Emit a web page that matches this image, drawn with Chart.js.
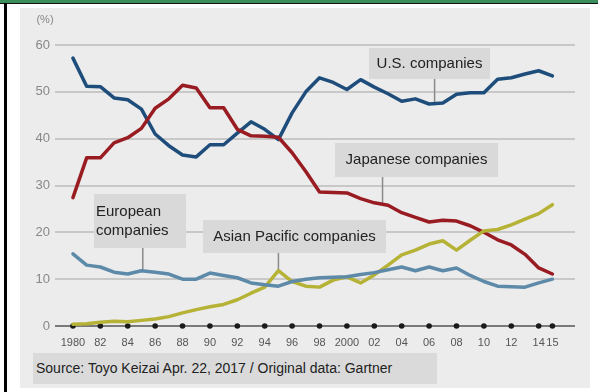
<!DOCTYPE html>
<html>
<head>
<meta charset="utf-8">
<script src="https://cdn.jsdelivr.net/npm/chart.js@4.4.1/dist/chart.umd.min.js"></script>
<style>
  body { margin: 0; width: 598px; height: 392px; overflow: hidden; position: relative; background: #fff; font-family: "Liberation Sans", Arial, sans-serif; }
  #topbar { position: absolute; left: 0; top: 0; width: 598px; height: 3px; background: #3a8e5c; }
  #topline { position: absolute; left: 0; top: 3px; width: 598px; height: 1px; background: #111; }
  #leftline { position: absolute; left: 4px; top: 3px; width: 3px; height: 389px; background: #000; }
  #panel { position: absolute; left: 20px; top: 8px; width: 570px; height: 380px; background: #ececec; }
  #wrap { position: absolute; left: 0; top: 0; width: 598px; height: 392px; }
  #source { position: absolute; left: 33px; top: 353px; width: 401px; height: 31px; padding-left: 3px; background: #dadada; color: #222; font-size: 14px; line-height: 31px; white-space: nowrap; }
</style>
</head>
<body>
<div id="topbar"></div>
<div id="topline"></div>
<div id="leftline"></div>
<div id="panel"></div>
<div id="wrap"><canvas id="chart" width="598" height="392"></canvas></div>
<div id="source">Source: Toyo Keizai Apr. 22, 2017 / Original data: Gartner</div>
<script>
const years = [1980, 1981, 1982, 1983, 1984, 1985, 1986, 1987, 1988, 1989,
               1990, 1991, 1992, 1993, 1994, 1995, 1996, 1997, 1998, 1999,
               2000, 2001, 2002, 2003, 2004, 2005, 2006, 2007, 2008, 2009,
               2010, 2011, 2012, 2013, 2014, 2015];

const usShare = [57.2, 51.2, 51.1, 48.7, 48.3, 46.3, 41.0, 38.5, 36.5, 36.1,
                 38.7, 38.7, 41.2, 43.6, 42.0, 39.8, 45.5, 50.0, 53.0, 52.0,
                 50.5, 52.6, 51.0, 49.6, 48.0, 48.5, 47.4, 47.6, 49.5, 49.8,
                 49.8, 52.7, 53.0, 53.8, 54.5, 53.4];

const japanShare = [27.4, 35.9, 35.9, 39.1, 40.2, 42.2, 46.5, 48.5, 51.4, 50.8,
                    46.6, 46.6, 42.0, 40.6, 40.5, 40.3, 37.0, 33.0, 28.6, 28.5,
                    28.4, 27.2, 26.3, 25.8, 24.2, 23.2, 22.2, 22.6, 22.4, 21.4,
                    20.0, 18.4, 17.3, 15.3, 12.4, 11.1];

const europeShare = [15.4, 13.0, 12.6, 11.5, 11.1, 11.8, 11.5, 11.1, 10.0, 10.0,
                     11.3, 10.8, 10.3, 9.2, 8.8, 8.5, 9.5, 10.0, 10.3, 10.4,
                     10.5, 11.0, 11.4, 12.0, 12.6, 11.8, 12.6, 11.8, 12.4, 10.8,
                     9.5, 8.5, 8.4, 8.3, 9.2, 10.0];

const asiaShare = [0.4, 0.5, 0.8, 1.0, 0.9, 1.2, 1.5, 2.0, 2.8, 3.5,
                   4.1, 4.6, 5.6, 7.0, 8.3, 11.8, 9.5, 8.5, 8.3, 9.8,
                   10.5, 9.2, 10.9, 13.0, 15.2, 16.2, 17.5, 18.2, 16.2, 18.3,
                   20.3, 20.6, 21.6, 22.8, 24.0, 25.9];

const yearTicks = [1980, 1982, 1984, 1986, 1988, 1990, 1992, 1994, 1996, 1998,
                   2000, 2002, 2004, 2006, 2008, 2010, 2012, 2014, 2015];
const yearTickLabels = ['1980', '82', '84', '86', '88', '90', '92', '94', '96', '98',
                        '2000', '02', '04', '06', '08', '10', '12', '14', '15'];
const valueTicks = [0, 10, 20, 30, 40, 50, 60];

function toPoints(values) {
    return years.map((yr, i) => ({ x: yr, y: values[i] }));
}

function valueAt(values, year) {
    const idx = year - years[0];
    const i = Math.min(Math.floor(idx), values.length - 2);
    return values[i] + (values[i + 1] - values[i]) * (idx - i);
}

// label boxes with leader lines down to the series
const notes = [
    { lines: ['U.S. companies'], box: [369, 48, 121, 31], year: 2006.4, values: usShare, align: 'center' },
    { lines: ['Japanese companies'], box: [335, 143, 163, 34], year: 2002.6, values: japanShare, align: 'center' },
    { lines: ['European', 'companies'], box: [94, 194, 92, 54], year: 1985.1, values: europeShare, align: 'left' },
    { lines: ['Asian Pacific companies'], box: [203, 220, 183, 33], year: 1995, values: asiaShare, align: 'center' }
];

const notesPlugin = {
    id: 'notes',
    beforeDatasetsDraw(chart) {
        const ctx = chart.ctx;
        const xs = chart.scales.x, ys = chart.scales.y;
        ctx.save();
        notes.forEach(n => {
            const [bx, by, bw, bh] = n.box;
            const lx = xs.getPixelForValue(n.year);
            const ly = ys.getPixelForValue(valueAt(n.values, n.year));
            ctx.strokeStyle = '#8a8a8a';
            ctx.lineWidth = 1.5;
            ctx.beginPath();
            ctx.moveTo(lx, by + bh);
            ctx.lineTo(lx, ly);
            ctx.stroke();
            ctx.fillStyle = '#d9d9d9';
            ctx.fillRect(bx, by, bw, bh);
            ctx.fillStyle = '#222';
            ctx.font = '15px "Liberation Sans", Arial, sans-serif';
            ctx.textBaseline = 'middle';
            const lh = 19;
            const top = by + bh / 2 - (n.lines.length - 1) * lh / 2;
            n.lines.forEach((t, i) => {
                if (n.align === 'center') {
                    ctx.textAlign = 'center';
                    ctx.fillText(t, bx + bw / 2, top + i * lh);
                } else {
                    ctx.textAlign = 'left';
                    ctx.fillText(t, bx + 2, top + i * lh);
                }
            });
        });
        ctx.restore();
    },
    afterDraw(chart) {
        const ctx = chart.ctx;
        ctx.save();
        ctx.fillStyle = '#888';
        ctx.font = '11px "Liberation Sans", Arial, sans-serif';
        ctx.textAlign = 'center';
        ctx.textBaseline = 'middle';
        ctx.fillText('(%)', 45, 20);
        ctx.restore();
    }
};

function lineSet(label, values, color) {
    return {
        label: label,
        data: toPoints(values),
        borderColor: color,
        backgroundColor: color,
        borderWidth: 3.5,
        pointRadius: 0,
        tension: 0,
        borderJoinStyle: 'round',
        borderCapStyle: 'round'
    };
}

new Chart(document.getElementById('chart'), {
    type: 'line',
    data: {
        datasets: [
            lineSet('European companies', europeShare, '#5e8aa9'),
            lineSet('Asian Pacific companies', asiaShare, '#b5b236'),
            lineSet('Japanese companies', japanShare, '#981c21'),
            lineSet('U.S. companies', usShare, '#1e4d7c'),
            {
                label: 'ticks',
                data: yearTicks.map(v => ({ x: v, y: 0 })),
                showLine: false,
                pointRadius: 2.8,
                pointBackgroundColor: '#1a1a1a',
                pointBorderWidth: 0,
                clip: false
            }
        ]
    },
    options: {
        responsive: false,
        animation: false,
        layout: { padding: { left: 0, right: 23, top: 45, bottom: 0 } },
        plugins: {
            legend: { display: false },
            tooltip: { enabled: false }
        },
        scales: {
            x: {
                type: 'linear',
                min: 1978.69,
                max: 2016.65,
                afterBuildTicks: scale => { scale.ticks = yearTicks.map(v => ({ value: v })); },
                afterFit: scale => { scale.height = 66; },
                grid: { display: false, drawTicks: false },
                border: { display: false },
                ticks: {
                    autoSkip: false,
                    maxRotation: 0,
                    padding: 10,
                    color: '#555',
                    font: { size: 11, family: '"Liberation Sans", Arial, sans-serif' },
                    callback: v => yearTickLabels[yearTicks.indexOf(v)]
                }
            },
            y: {
                min: 0,
                max: 60,
                afterBuildTicks: scale => { scale.ticks = valueTicks.map(v => ({ value: v })); },
                afterFit: scale => { scale.width = 55; },
                grid: {
                    drawTicks: false,
                    lineWidth: 2,
                    color: c => c.tick && c.tick.value === 0 ? '#7a7a7a' : '#c8c8c8'
                },
                border: { display: false },
                ticks: {
                    padding: 5,
                    color: '#888',
                    font: { size: 13, family: '"Liberation Sans", Arial, sans-serif' }
                }
            }
        }
    },
    plugins: [notesPlugin]
});
</script>
</body>
</html>
